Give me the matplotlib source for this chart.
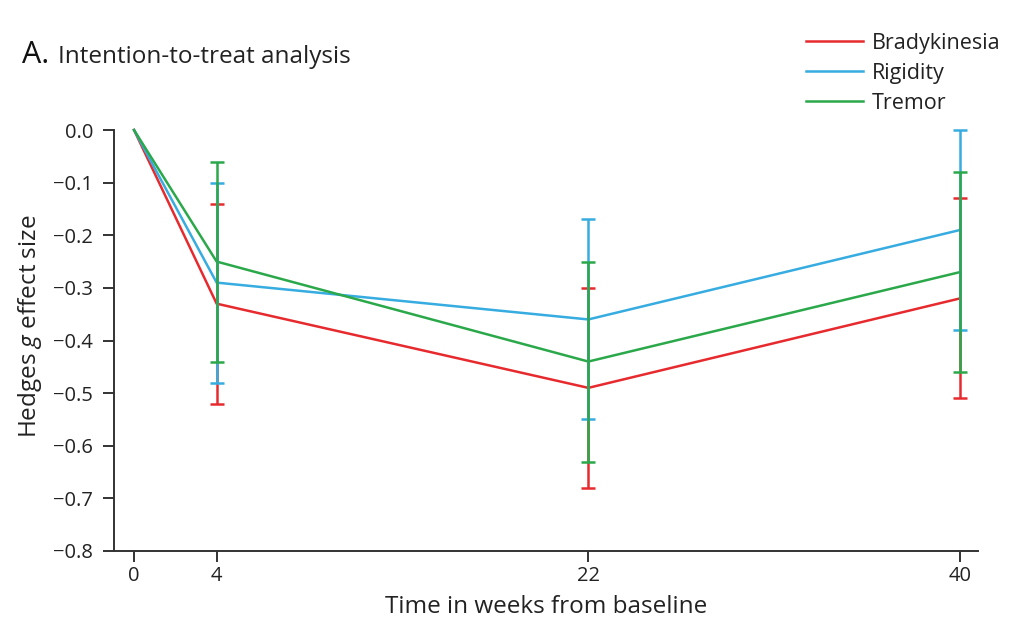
import matplotlib
matplotlib.use("Agg")
import matplotlib.pyplot as plt
import numpy as np

plt.rcParams['font.family'] = ['Open Sans', 'DejaVu Sans']
plt.rcParams['mathtext.fontset'] = 'custom'
plt.rcParams['mathtext.it'] = 'Open Sans:italic'
plt.rcParams['mathtext.rm'] = 'Open Sans'

weeks = [0, 4, 22, 40]
series = ["Bradykinesia", "Rigidity", "Tremor"]
colors = ["#e62a2e", "#36ace0", "#2aa84a"]

brady = [0.0, -0.33, -0.49, -0.32]
brady_hi = [None, -0.14, -0.30, -0.13]
brady_lo = [None, -0.52, -0.68, -0.51]

rigid = [0.0, -0.29, -0.36, -0.19]
rigid_hi = [None, -0.10, -0.17, 0.00]
rigid_lo = [None, -0.48, -0.55, -0.38]

tremor = [0.0, -0.25, -0.44, -0.27]
tremor_hi = [None, -0.06, -0.25, -0.08]
tremor_lo = [None, -0.44, -0.63, -0.46]

yticks = [0.0, -0.1, -0.2, -0.3, -0.4, -0.5, -0.6, -0.7, -0.8]
xticks = [0, 4, 22, 40]

fig = plt.figure(figsize=(10.24, 6.3), dpi=100)
ax = fig.add_axes([114/1024, 1-551/630, (978-114)/1024, (551-130)/630])

vals = [brady, rigid, tremor]
his = [brady_hi, rigid_hi, tremor_hi]
los = [brady_lo, rigid_lo, tremor_lo]

for name, v, c in zip(series, vals, colors):
    ax.plot(weeks, v, color=c, lw=1.8, label=name, zorder=2, clip_on=False)

for v, hi, lo, c in zip(vals, his, los, colors):
    x = np.array(weeks[1:], dtype=float)
    y = np.array(v[1:])
    h = np.array(hi[1:])
    l = np.array(lo[1:])
    ax.errorbar(x, y, yerr=[y - l, h - y], fmt='none', ecolor=c,
                elinewidth=1.8, capsize=5, capthick=1.8, zorder=3, clip_on=False)

ax.set_xlim(-0.97, 40.87)
ax.set_ylim(-0.8, 0.0)
ax.set_xticks(xticks)
ax.set_xticklabels([str(t) for t in xticks])
ax.set_yticks(yticks)
ax.set_yticklabels([f"{t:.1f}".replace("-", "\u2212") if t != 0 else "0.0" for t in yticks])

for s in ['top', 'right']:
    ax.spines[s].set_visible(False)
for s in ['left', 'bottom']:
    ax.spines[s].set_color('#333333')
    ax.spines[s].set_linewidth(1.4)
ax.tick_params(axis='both', direction='out', length=8, width=1.4, color='#333333',
               labelsize=14.5, labelcolor='#222222')
ax.tick_params(axis='y', pad=7)
ax.tick_params(axis='x', pad=3)

ax.set_xlabel("Time in weeks from baseline", fontsize=17.5, color='#222222', labelpad=6)
ax.set_ylabel("Hedges $\\it{g}$ effect size", fontsize=17.5, color='#222222')
ax.yaxis.set_label_coords(-0.081, 0.534)

fig.text(22/1024, 1-63/630, "A.", fontsize=22, color='#111111', va='baseline', ha='left')
fig.text(58/1024, 1-63/630, "Intention-to-treat analysis", fontsize=17.5, color='#222222',
         va='baseline', ha='left')

leg = fig.legend(loc='upper left', bbox_to_anchor=(797/1024, 1-24/630), frameon=False,
                 fontsize=15.5, handlelength=2.65, handletextpad=0.42, labelspacing=0.42,
                 borderaxespad=0)
for t in leg.get_texts():
    t.set_color('#222222')

fig.savefig("out.png", dpi=100)
